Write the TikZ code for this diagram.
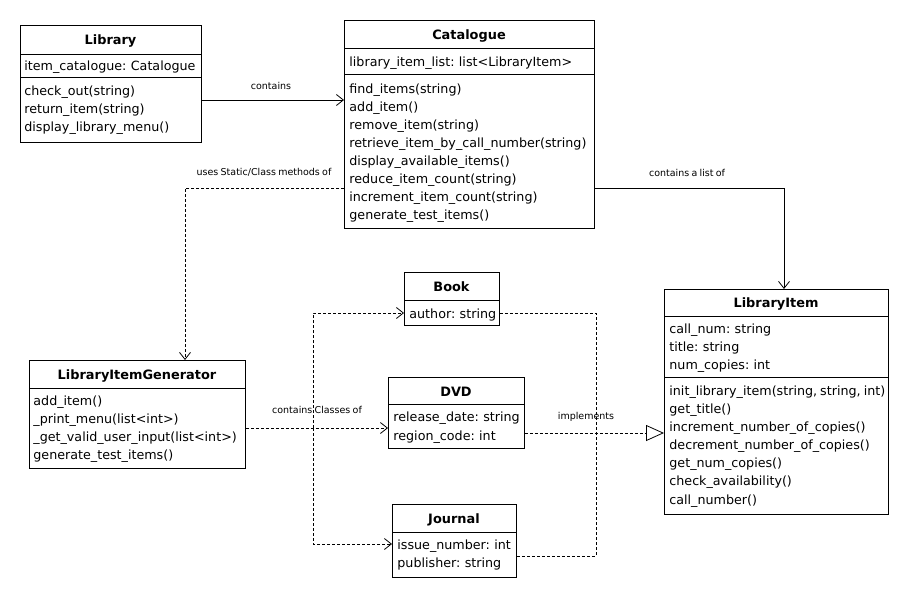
\documentclass[tikz,border=0pt]{standalone}
\usepackage{fontspec}
\setmainfont[WordSpace=0.75]{DejaVu Sans}
\usetikzlibrary{arrows.meta}
\begin{document}
\begin{tikzpicture}[x=1pt,y=-1pt,
  every path/.style={line width=0.8pt},
  box/.style={draw, inner sep=0pt, anchor=north west},
  txt/.style={inner sep=0pt, anchor=base west, font=\fontsize{12.7}{15}\selectfont},
  ttl/.style={inner sep=0pt, anchor=base, font=\fontsize{12.9}{15}\selectfont\bfseries},
  lbl/.style={inner sep=0pt, anchor=base, font=\fontsize{9.5}{11}\selectfont},
  assoc/.style={draw, -{Straight Barb[length=7pt,width=11pt]}},
  dep/.style={assoc, dash pattern=on 3pt off 2pt},
  dashline/.style={draw, dash pattern=on 3pt off 2pt},
  realize/.style={draw, dash pattern=on 3pt off 2pt, -{Triangle[open,length=18pt,width=16pt]}}]
\fill[white] (0,0) rectangle (909,597);
\useasboundingbox (0,0) rectangle (909,597);

% ---- Library
\node[box, minimum width=181pt, minimum height=117pt] (lib) at (20,25) {};
\node[ttl] at (110.5,44) {Library};
\draw (20,54) -- (201,54);
\node[txt] at (24,70) {item\_catalogue: Catalogue};
\draw (20,77) -- (201,77);
\foreach \t [count=\i from 0] in {check\_out(string), return\_item(string), display\_library\_menu()}
  \node[txt] at (24,95+18.2*\i) {\t};

% ---- Catalogue
\node[box, minimum width=250pt, minimum height=208pt] (cat) at (344,20) {};
\node[ttl] at (469,39) {Catalogue};
\draw (344,48) -- (594,48);
\node[txt] at (349,66) {library\_item\_list: list<LibraryItem>};
\draw (344,74) -- (594,74);
\foreach \t [count=\i from 0] in {find\_items(string), add\_item(), remove\_item(string),
    retrieve\_item\_by\_call\_number(string), display\_available\_items(),
    reduce\_item\_count(string), increment\_item\_count(string), generate\_test\_items()}
  \node[txt] at (349,93+18*\i) {\t};

% ---- Book
\node[box, minimum width=95pt, minimum height=53pt] (book) at (404,272) {};
\node[ttl] at (451.5,291) {Book};
\draw (404,300) -- (499,300);
\node[txt] at (409,318) {author: string};

% ---- DVD
\node[box, minimum width=136pt, minimum height=71pt] (dvd) at (388,377) {};
\node[ttl] at (456,396) {DVD};
\draw (388,404) -- (524,404);
\node[txt] at (393,421) {release\_date: string};
\node[txt] at (393,440) {region\_code: int};

% ---- Journal
\node[box, minimum width=124pt, minimum height=73pt] (jour) at (392,504) {};
\node[ttl] at (454,523) {Journal};
\draw (392,532) -- (516,532);
\node[txt] at (397,549) {issue\_number: int};
\node[txt] at (397,567) {publisher: string};

% ---- LibraryItem
\node[box, minimum width=224pt, minimum height=225pt] (item) at (664,289) {};
\node[ttl] at (776,307) {LibraryItem};
\draw (664,316) -- (888,316);
\foreach \t [count=\i from 0] in {call\_num: string, title: string, num\_copies: int}
  \node[txt] at (669,333+18*\i) {\t};
\draw (664,377) -- (888,377);
\foreach \t [count=\i from 0] in {{init\_library\_item(string, string, int)}, get\_title(),
    increment\_number\_of\_copies(), decrement\_number\_of\_copies(), get\_num\_copies(),
    check\_availability(), call\_number()}
  \node[txt] at (669,395+18.17*\i) {\t};

% ---- LibraryItemGenerator
\node[box, minimum width=216pt, minimum height=108pt] (gen) at (29,360) {};
\node[ttl] at (137,379) {LibraryItemGenerator};
\draw (29,388) -- (245,388);
\foreach \t [count=\i from 0] in {add\_item(), \_print\_menu(list<int>),
    \_get\_valid\_user\_input(list<int>), generate\_test\_items()}
  \node[txt] at (33,405+18.3*\i) {\t};

% ---- connectors
\draw[assoc] (lib.east |- 0,100) -- (cat.west |- 0,100);
\node[lbl] at (271,89.5) {contains};

\draw[assoc] (cat.east |- 0,188) -| (item.north -| 784,0);
\node[lbl] at (687,176) {contains a list of};

\draw[dep] (cat.west |- 0,188) -| (gen.north -| 185,0);
\node[lbl] at (264,175.5) {uses Static/Class methods of};

\coordinate (split) at (313,428);
\draw[dep] (gen.east |- 0,428) -- (dvd.west |- 0,428);
\draw[dep] (split) |- (book.west |- 0,313);
\draw[dep] (split) |- (jour.west |- 0,544);
\node[lbl] at (317,413.5) {contains Classes of};

\coordinate (merge) at (596,433);
\draw[realize] (dvd.east |- 0,433) -- (item.west |- 0,433);
\draw[dashline] (book.east |- 0,313) -| (merge);
\draw[dashline] (jour.east |- 0,556) -| (merge);
\node[lbl] at (586,419.5) {implements};
\end{tikzpicture}
\end{document}
